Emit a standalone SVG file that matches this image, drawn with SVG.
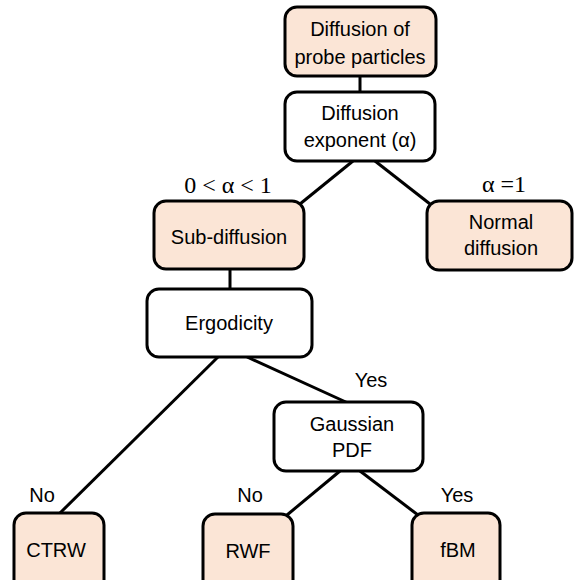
<svg xmlns="http://www.w3.org/2000/svg" width="574" height="580" viewBox="0 0 574 580">
<style>
.box{stroke:#000;stroke-width:3;}
.leaf{fill:#FBE5D6;}
.dec{fill:#fff;}
.t{font-family:"Liberation Sans",Arial,sans-serif;font-size:20px;fill:#000;text-anchor:middle;}
.m{font-family:"Liberation Serif","Times New Roman",serif;font-size:24px;fill:#000;text-anchor:middle;}
.c line{stroke:#000;stroke-width:3;}
</style>
<rect width="574" height="580" fill="#fff"/>
<g class="c" id="connectors">
<line x1="360" y1="76" x2="360" y2="92"/>
<line x1="353" y1="161" x2="300" y2="204"/>
<line x1="375" y1="161" x2="430" y2="204"/>
<line x1="230" y1="269" x2="230" y2="289"/>
<line x1="218" y1="357" x2="59" y2="514"/>
<line x1="247" y1="357" x2="348" y2="403"/>
<line x1="340" y1="471" x2="287" y2="515"/>
<line x1="360" y1="471" x2="418" y2="515"/>
</g>
<g id="n1"><rect class="box leaf" x="285" y="7" width="151" height="69" rx="12"/><text class="t" x="360" y="36">Diffusion of</text><text class="t" x="360" y="64">probe particles</text></g>
<g id="n2"><rect class="box dec" x="285" y="92" width="150" height="69" rx="12"/><text class="t" x="360" y="120">Diffusion</text><text class="t" x="360" y="147">exponent  (α)</text></g>
<g id="n3"><rect class="box leaf" x="154" y="201" width="150" height="68" rx="12"/><text class="t" x="229" y="244">Sub-diffusion</text></g>
<g id="n4"><rect class="box leaf" x="427" y="201" width="145" height="69" rx="12"/><text class="t" x="501" y="229">Normal</text><text class="t" x="501" y="255">diffusion</text></g>
<g id="n5"><rect class="box dec" x="147" y="289" width="165" height="68" rx="12"/><text class="t" x="229" y="330">Ergodicity</text></g>
<g id="n6"><rect class="box dec" x="274" y="402" width="149" height="69" rx="12"/><text class="t" x="352" y="431">Gaussian</text><text class="t" x="352" y="457">PDF</text></g>
<g id="n7"><rect class="box leaf" x="14" y="513" width="90" height="80" rx="12"/><text class="t" x="56" y="557">CTRW</text></g>
<g id="n8"><rect class="box leaf" x="203" y="514" width="90" height="80" rx="12"/><text class="t" x="248" y="558">RWF</text></g>
<g id="n9"><rect class="box leaf" x="412" y="513" width="88" height="80" rx="12"/><text class="t" x="458" y="557">fBM</text></g>
<g id="labels">
<text class="m" x="228" y="193">0 &lt; α &lt; 1</text>
<text class="m" x="504" y="192">α =1</text>
<text class="t" x="371" y="387">Yes</text>
<text class="t" x="42" y="502">No</text>
<text class="t" x="250" y="502">No</text>
<text class="t" x="457" y="502">Yes</text>
</g>
</svg>
